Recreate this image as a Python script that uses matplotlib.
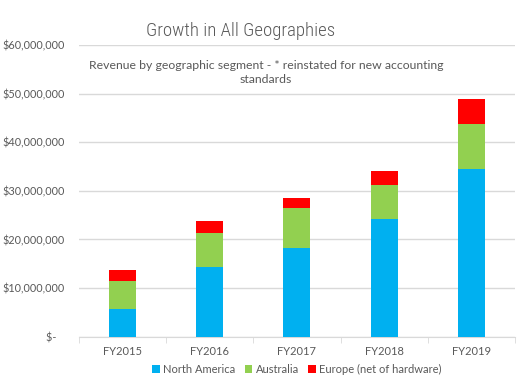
import matplotlib.pyplot as plt
import numpy as np

years = ["FY2015", "FY2016", "FY2017", "FY2018", "FY2019"]
north_america = [5.7e6, 14.4e6, 18.3e6, 24.3e6, 34.5e6]
australia = [5.8e6, 7.0e6, 8.2e6, 7.0e6, 9.3e6]
europe = [2.2e6, 2.4e6, 2.1e6, 2.7e6, 5.2e6]
yticks = [0, 10e6, 20e6, 30e6, 40e6, 50e6, 60e6]

plt.rcParams["font.family"] = ["Lato", "DejaVu Sans"]
grey = "#595959"

fig = plt.figure(figsize=(5.26, 3.86), dpi=100)
ax = fig.add_axes([0.150, 0.128, 0.829, 0.755])

x = np.arange(len(years))
w = 0.31
na = np.array(north_america)
au = np.array(australia)
eu = np.array(europe)
ax.bar(x, na, w, color="#00B0F0", label="North America", zorder=3)
ax.bar(x, au, w, bottom=na, color="#92D050", label="Australia", zorder=3)
ax.bar(x, eu, w, bottom=na + au, color="#FF0000", label="Europe (net of hardware)", zorder=3)

ax.set_xlim(-0.5, len(years) - 0.5)
ax.set_ylim(0, 60e6)
ax.set_yticks(yticks)
ax.set_yticklabels(["$-   "] + [f"${v:,.0f}" for v in yticks[1:]])
ax.set_xticks(x)
ax.set_xticklabels(years)
ax.grid(axis="y", color="#D9D9D9", linewidth=1, zorder=0)
for s in ["top", "right", "left"]:
    ax.spines[s].set_visible(False)
ax.spines["bottom"].set_color("#D9D9D9")
ax.tick_params(axis="y", length=0, labelsize=7.8, labelcolor=grey, pad=10)
ax.tick_params(axis="x", length=0, labelsize=8, labelcolor=grey, pad=7)
# category boundary ticks
ax.set_xticks(np.arange(-0.5, len(years)), minor=True)
ax.tick_params(axis="x", which="minor", length=4, color="#D9D9D9")

fig.text(0.458, 0.92, "Growth in All Geographies", ha="center", va="center",
         fontsize=13.5, color=grey, family=["Roboto Condensed", "Roboto", "DejaVu Sans"],
         fontweight="light")
fig.text(0.506, 0.813, "Revenue by geographic segment - * reinstated for new accounting\nstandards",
         ha="center", va="center", fontsize=8.8, color=grey, linespacing=1.3)

ax.legend(loc="upper center", bbox_to_anchor=(0.5, -0.06), ncol=3, frameon=False,
          fontsize=8, labelcolor=grey, handlelength=0.7, handleheight=0.7,
          handletextpad=0.3, columnspacing=0.8)

fig.savefig("out.png", dpi=100)
